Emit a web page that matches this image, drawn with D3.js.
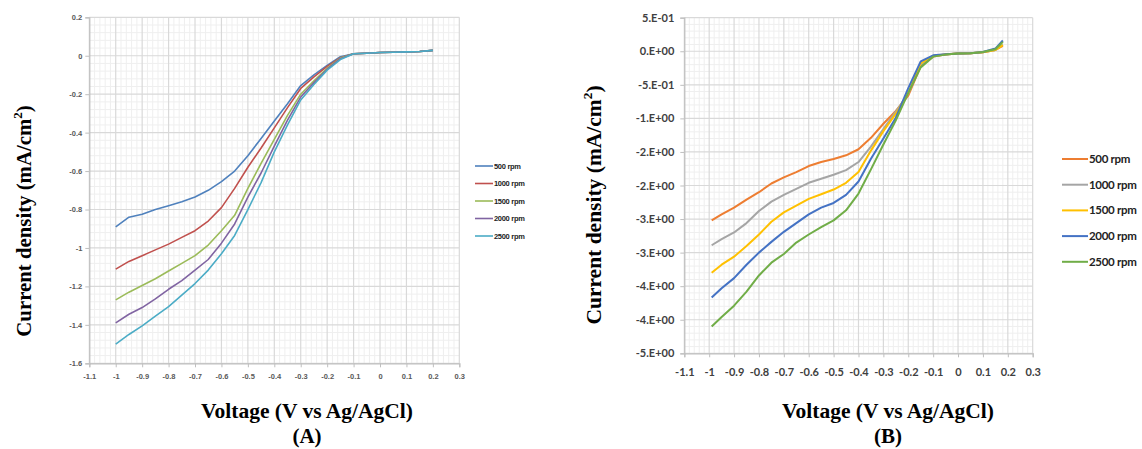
<!DOCTYPE html>
<html><head><meta charset="utf-8">
<script src="https://cdn.jsdelivr.net/npm/d3@7"></script>
<style>
html,body{margin:0;padding:0;background:#fff;}
svg{display:block;}
</style></head>
<body>
<svg id="c" width="1142" height="449"></svg>
<script>
// ---------- DATA (A) ----------
const voltsA = [-1,-0.95,-0.9,-0.85,-0.8,-0.75,-0.7,-0.65,-0.6,-0.55,-0.5,-0.45,-0.4,-0.35,-0.3,-0.25,-0.2,-0.15,-0.1,-0.05,0,0.05,0.1,0.15,0.2];
const rpm500A  = [-0.89,-0.84,-0.825,-0.80,-0.78,-0.76,-0.735,-0.70,-0.655,-0.60,-0.52,-0.43,-0.34,-0.25,-0.155,-0.10,-0.05,-0.005,0.01,0.013,0.017,0.018,0.02,0.022,0.028];
const rpm1000A = [-1.11,-1.07,-1.04,-1.01,-0.98,-0.945,-0.91,-0.86,-0.79,-0.69,-0.58,-0.48,-0.375,-0.27,-0.17,-0.11,-0.055,-0.01,0.01,0.013,0.017,0.018,0.02,0.022,0.028];
const rpm1500A = [-1.27,-1.23,-1.195,-1.16,-1.12,-1.08,-1.04,-0.985,-0.91,-0.83,-0.69,-0.56,-0.435,-0.31,-0.20,-0.13,-0.065,-0.012,0.01,0.013,0.017,0.018,0.02,0.022,0.028];
const rpm2000A = [-1.39,-1.345,-1.31,-1.265,-1.215,-1.17,-1.115,-1.06,-0.975,-0.875,-0.735,-0.61,-0.47,-0.335,-0.215,-0.14,-0.07,-0.015,0.01,0.013,0.017,0.018,0.02,0.022,0.028];
const rpm2500A = [-1.50,-1.45,-1.405,-1.355,-1.305,-1.245,-1.185,-1.115,-1.03,-0.935,-0.80,-0.66,-0.50,-0.36,-0.23,-0.15,-0.075,-0.02,0.01,0.013,0.017,0.018,0.02,0.022,0.028];
const xTicksA = [-1.1,-1,-0.9,-0.8,-0.7,-0.6,-0.5,-0.4,-0.3,-0.2,-0.1,0,0.1,0.2,0.3];
const xTickLabelsA = ["-1.1","-1","-0.9","-0.8","-0.7","-0.6","-0.5","-0.4","-0.3","-0.2","-0.1","0","0.1","0.2","0.3"];
const yTicksA = [0.2,0,-0.2,-0.4,-0.6,-0.8,-1,-1.2,-1.4,-1.6];
const yTickLabelsA = ["0.2","0","-0.2","-0.4","-0.6","-0.8","-1","-1.2","-1.4","-1.6"];
const seriesNamesA = ["500 rpm","1000 rpm","1500 rpm","2000 rpm","2500 rpm"];
const colorsA = ["#4f81bd","#c0504d","#9bbb59","#8064a2","#4bacc6"];

// ---------- DATA (B) ----------
const voltsB = [-0.99,-0.95,-0.9,-0.85,-0.8,-0.75,-0.7,-0.65,-0.6,-0.55,-0.5,-0.45,-0.4,-0.35,-0.3,-0.25,-0.2,-0.15,-0.1,-0.05,0,0.05,0.1,0.15,0.18];
const rpm500B  = [-2.52,-2.43,-2.33,-2.21,-2.10,-1.97,-1.88,-1.80,-1.71,-1.65,-1.605,-1.55,-1.46,-1.29,-1.08,-0.89,-0.66,-0.22,-0.08,-0.05,-0.035,-0.03,-0.015,0.02,0.08];
const rpm1000B = [-2.89,-2.80,-2.70,-2.56,-2.38,-2.24,-2.14,-2.05,-1.96,-1.90,-1.84,-1.77,-1.65,-1.42,-1.16,-0.90,-0.63,-0.20,-0.07,-0.05,-0.035,-0.03,-0.015,0.02,0.10];
const rpm1500B = [-3.30,-3.18,-3.06,-2.90,-2.73,-2.54,-2.40,-2.30,-2.20,-2.13,-2.06,-1.96,-1.80,-1.48,-1.19,-0.93,-0.62,-0.18,-0.07,-0.045,-0.035,-0.03,-0.015,0.02,0.09];
const rpm2000B = [-3.67,-3.53,-3.38,-3.18,-3.00,-2.84,-2.69,-2.56,-2.43,-2.33,-2.26,-2.14,-1.94,-1.60,-1.30,-0.99,-0.55,-0.15,-0.06,-0.045,-0.035,-0.03,-0.01,0.04,0.16];
const rpm2500B = [-4.10,-3.96,-3.79,-3.58,-3.34,-3.15,-3.02,-2.85,-2.73,-2.62,-2.52,-2.37,-2.12,-1.76,-1.39,-1.03,-0.62,-0.24,-0.08,-0.05,-0.035,-0.03,-0.01,0.03,0.14];
const xTicksB = xTicksA;
const xTickLabelsB = xTickLabelsA;
const yTicksB = [0.5,0,-0.5,-1,-1.5,-2,-2.5,-3,-3.5,-4,-4.5];
const yTickLabelsB = ["5.E-01","0.E+00","-5.E-01","-1.E+00","-2.E+00","-2.E+00","-3.E+00","-3.E+00","-4.E+00","-4.E+00","-5.E+00"];
const seriesNamesB = ["500 rpm","1000 rpm","1500 rpm","2000 rpm","2500 rpm"];
const colorsB = ["#ed7d31","#a5a5a5","#ffc000","#4472c4","#70ad47"];

const svg = d3.select("#c");

function drawChart(o){
  const g = svg.append("g");
  const x = d3.scaleLinear().domain([o.xTicks[0], o.xTicks[o.xTicks.length-1]]).range([o.left,o.right]);
  const y = d3.scaleLinear().domain([o.yTicks[0], o.yTicks[o.yTicks.length-1]]).range([o.top,o.bottom]);
  const xStep = o.xTicks[1]-o.xTicks[0], yStep = o.yTicks[0]-o.yTicks[1];
  const minorX = [], minorY = [];
  for(let i=0;i<o.xTicks.length-1;i++) for(let k=1;k<5;k++) minorX.push(o.xTicks[i]+xStep*k/5);
  for(let i=0;i<o.yTicks.length-1;i++) for(let k=1;k<5;k++) minorY.push(o.yTicks[i]-yStep*k/5);
  g.selectAll(".mx").data(minorX).enter().append("line")
    .attr("x1",d=>x(d)).attr("x2",d=>x(d)).attr("y1",o.top).attr("y2",o.bottom)
    .attr("stroke","#efefef").attr("stroke-width",1);
  g.selectAll(".my").data(minorY).enter().append("line")
    .attr("x1",o.left).attr("x2",o.right).attr("y1",d=>y(d)).attr("y2",d=>y(d))
    .attr("stroke","#efefef").attr("stroke-width",1);
  g.selectAll(".gx").data(o.xTicks).enter().append("line")
    .attr("x1",d=>x(d)).attr("x2",d=>x(d)).attr("y1",o.top).attr("y2",o.bottom)
    .attr("stroke","#d9d9d9").attr("stroke-width",1.2);
  g.selectAll(".gy").data(o.yTicks).enter().append("line")
    .attr("x1",o.left).attr("x2",o.right).attr("y1",d=>y(d)).attr("y2",d=>y(d))
    .attr("stroke","#d9d9d9").attr("stroke-width",1.2);
  const xAxis = d3.axisBottom(x).tickValues(o.xTicks).tickSize(4)
    .tickFormat((d,i)=>o.xTickLabels[i]);
  const yAxis = d3.axisLeft(y).tickValues(o.yTicks).tickSize(4)
    .tickFormat((d,i)=>o.yTickLabels[i]);
  const xa = g.append("g").attr("transform",`translate(0,${o.bottom})`).call(xAxis);
  const ya = g.append("g").attr("transform",`translate(${o.left},0)`).call(yAxis);
  [xa,ya].forEach(a=>{
    a.select(".domain").attr("stroke","#bfbfbf").attr("stroke-width",1.2);
    a.selectAll(".tick line").attr("stroke","#bfbfbf");
    a.selectAll("text").attr("font-family",o.tickFont).attr("font-size",o.tickSize)
      .attr("font-weight",o.tickWeight).attr("fill",o.tickColor);
  });
  xa.selectAll("text").attr("dy",null).attr("y",o.xLabelDy);
  ya.selectAll("text").attr("x",-o.yLabelDx);
  const line = d3.line().x(d=>x(d[0])).y(d=>y(d[1]));
  o.series.forEach((s,i)=>{
    g.append("path").datum(o.volts.map((v,j)=>[v,s[j]]))
      .attr("d",line).attr("fill","none").attr("stroke",o.colors[i])
      .attr("stroke-width",o.lineWidth).attr("stroke-linejoin","round");
  });
  o.names.forEach((n,i)=>{
    const ly = o.legY + i*o.legGap;
    g.append("line").attr("x1",o.legX).attr("x2",o.legX+o.legLen).attr("y1",ly).attr("y2",ly)
      .attr("stroke",o.colors[i]).attr("stroke-width",o.lineWidth);
    g.append("text").attr("x",o.legX+o.legLen+1).attr("y",ly).attr("dy","0.35em")
      .attr("font-family",o.tickFont).attr("font-size",o.legSize).attr("font-weight","bold")
      .attr("fill","#222").attr("letter-spacing",-0.3).text(n);
  });
  const serif = "Liberation Serif, Times New Roman, serif";
  const yt = g.append("text").attr("transform",`translate(${o.yTitleX},${o.yTitleY}) rotate(-90)`)
    .attr("text-anchor","middle").attr("font-family",serif)
    .attr("font-weight","bold").attr("font-size",o.yTitleSize).attr("fill","#000");
  yt.append("tspan").text("Current density (mA/cm");
  yt.append("tspan").attr("font-size",o.yTitleSize*0.62).attr("dy",-o.yTitleSize*0.42).text("2");
  yt.append("tspan").attr("dy",o.yTitleSize*0.42).text(")");
  g.append("text").attr("x",o.xTitleX).attr("y",418).attr("text-anchor","middle")
    .attr("font-family",serif).attr("font-weight","bold")
    .attr("font-size",21.5).attr("fill","#000").text("Voltage (V vs Ag/AgCl)");
  g.append("text").attr("x",o.xTitleX).attr("y",443).attr("text-anchor","middle")
    .attr("font-family",serif).attr("font-weight","bold")
    .attr("font-size",21).attr("fill","#000").text(o.panel);
}

drawChart({
  left:89.3,right:459.3,top:17.3,bottom:363.3,
  xTicks:xTicksA,xTickLabels:xTickLabelsA,yTicks:yTicksA,yTickLabels:yTickLabelsA,
  volts:voltsA,series:[rpm500A,rpm1000A,rpm1500A,rpm2000A,rpm2500A],
  names:seriesNamesA,colors:colorsA,lineWidth:1.6,
  tickFont:"Liberation Sans, Arial, sans-serif",tickSize:7.5,tickWeight:"bold",tickColor:"#595959",
  xLabelDy:15.5,yLabelDx:7,
  legX:475,legY:166,legGap:17.5,legLen:18,legSize:7.5,
  yTitleX:31,yTitleY:221,yTitleSize:20.8,xTitleX:307,panel:"(A)"
});
drawChart({
  left:684.3,right:1032.7,top:17.7,bottom:353.3,
  xTicks:xTicksB,xTickLabels:xTickLabelsB,yTicks:yTicksB,yTickLabels:yTickLabelsB,
  volts:voltsB,series:[rpm500B,rpm1000B,rpm1500B,rpm2000B,rpm2500B],
  names:seriesNamesB,colors:colorsB,lineWidth:2,
  tickFont:"Lato, Liberation Sans, sans-serif",tickSize:11,tickWeight:"bold",tickColor:"#404040",
  xLabelDy:22.5,yLabelDx:10,
  legX:1062,legY:159,legGap:25.7,legLen:26,legSize:11.5,
  yTitleX:601,yTitleY:205,yTitleSize:21.5,xTitleX:888,panel:"(B)"
});
</script>
</body></html>
